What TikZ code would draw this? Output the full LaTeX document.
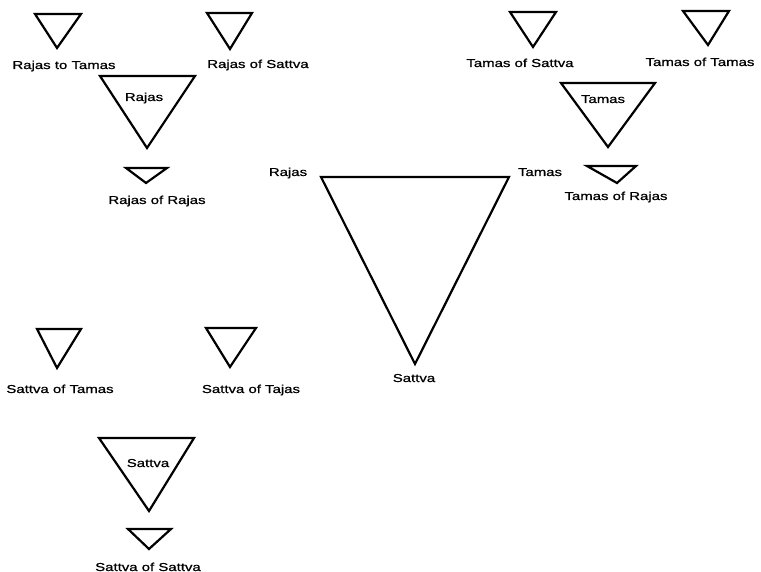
\documentclass[tikz,border=0pt]{standalone}
\usepackage{fontspec}
\setmainfont{Liberation Sans}[FakeStretch=1.3,FakeBold=0.8]
\begin{document}
\begin{tikzpicture}[x=1pt,y=-1pt,
  tri/.style={draw=black,line width=2.2pt,line join=miter},
  lab/.style={font=\fontsize{11.5}{13}\selectfont,inner sep=0pt,anchor=base}]
\useasboundingbox (0,0) rectangle (761,572);

% main triangle
\draw[tri] (321,177) -- (509,177) -- (415,364) -- cycle;
\node[lab] (mR) at (288,176) {Rajas};
\node[lab] (mT) at (540,176) {Tamas};
\node[lab] (mS) at (414,382) {Sattva};

% Rajas group
\draw[tri] (35,14) -- (81,14) -- (57,48) -- cycle;
\node[lab] (rt) at (64,69) {Rajas to Tamas};
\draw[tri] (207,13) -- (252,13) -- (230,49) -- cycle;
\node[lab] (rs) at (258,68) {Rajas of Sattva};
\draw[tri] (100,76) -- (195,76) -- (147,148) -- cycle;
\node[lab] (rm) at (144,101) {Rajas};
\draw[tri] (126,168) -- (167,168) -- (146,183) -- cycle;
\node[lab] (rr) at (157,204) {Rajas of Rajas};

% Tamas group
\draw[tri] (510,12) -- (556,12) -- (533,47) -- cycle;
\node[lab] (ts) at (520,67) {Tamas of Sattva};
\draw[tri] (683,11) -- (729,11) -- (708,45) -- cycle;
\node[lab] (tt) at (700,66) {Tamas of Tamas};
\draw[tri] (561,83) -- (655,83) -- (608,147) -- cycle;
\node[lab] (tm) at (603,103) {Tamas};
\draw[tri] (587,166) -- (636,166) -- (617,183) -- cycle;
\node[lab] (tr) at (616,200) {Tamas of Rajas};

% Sattva group
\draw[tri] (37,329) -- (81,329) -- (57,368) -- cycle;
\node[lab] (st) at (60,393) {Sattva of Tamas};
\draw[tri] (206,328) -- (256,328) -- (230,367) -- cycle;
\node[lab] (sr) at (251,393) {Sattva of Tajas};
\draw[tri] (99,438) -- (194,438) -- (149,511) -- cycle;
\node[lab] (sm) at (148,467) {Sattva};
\draw[tri] (128,529) -- (171,529) -- (149,549) -- cycle;
\node[lab] (ss) at (148,571) {Sattva of Sattva};
\end{tikzpicture}
\end{document}
